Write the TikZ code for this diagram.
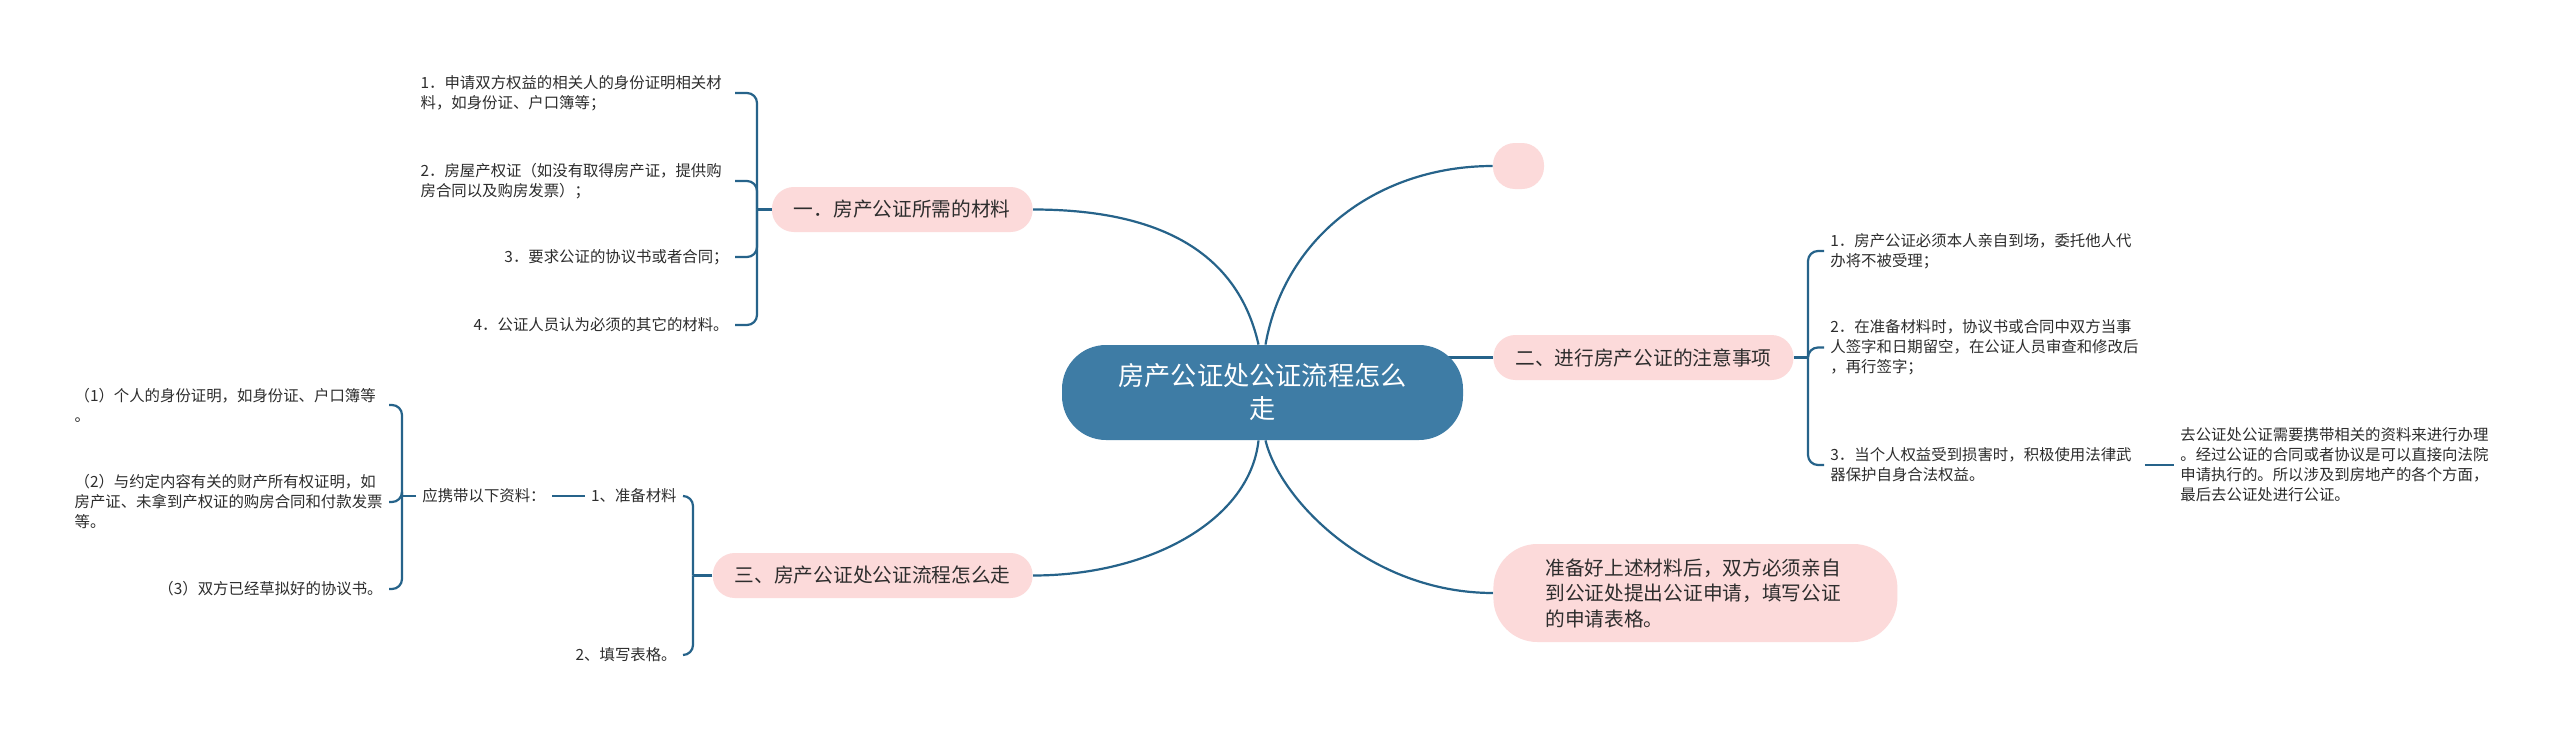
\documentclass[tikz,border=0pt]{standalone}
\usepackage{fontspec}
\setmainfont{Noto Sans CJK SC}
\usetikzlibrary{backgrounds}
\definecolor{linec}{RGB}{38,99,138}
\definecolor{pinkf}{RGB}{252,218,218}
\definecolor{cfill}{RGB}{62,124,165}
\definecolor{txt}{RGB}{45,45,45}
\begin{document}
\begin{tikzpicture}[x=0.5pt,y=-0.5pt,
  conn/.style={draw=linec, line width=1.1pt},
  bracket/.style={conn, rounded corners=5pt},
  central/.style={fill=cfill, text=white, rounded corners=22pt, minimum width=200.5pt,
    minimum height=47.5pt, align=center, inner sep=0pt,
    font=\fontsize{13.1pt}{16.5pt}\selectfont},
  branch/.style={fill=pinkf, text=txt, rounded corners=11pt, minimum height=22.5pt,
    inner xsep=11pt, inner ysep=0pt, font=\fontsize{9.85pt}{12pt}\selectfont},
  detail/.style={fill=pinkf, text=txt, rounded corners=22pt, minimum height=49pt,
    text width=150pt, inner xsep=26pt, align=left,
    font=\fontsize{9.85pt}{12.75pt}\selectfont},
  leaf/.style={text=txt, font=\fontsize{7.7pt}{10pt}\selectfont, inner xsep=3pt,
    inner ysep=0pt, align=left},
  wide/.style={text width=154pt}]
\useasboundingbox (0,0) rectangle (2560,739);

% central and main branches
\node[central] (c) at (1262.5,392.5) {房产公证处公证流程怎么\\走};
\node[branch, anchor=east] (n1) at (1033,209.5) {一．房产公证所需的材料};
\node[branch, minimum width=25.5pt, minimum height=23pt, inner xsep=0pt] (n0) at (1518.5,166) {};
\node[branch, anchor=west] (n2) at (1493,357.5) {二、进行房产公证的注意事项};
\node[branch, anchor=east] (n3) at (1033,575.5) {三、房产公证处公证流程怎么走};
\node[detail, anchor=west] (n4) at (1493,593) {准备好上述材料后，双方必须亲自\\到公证处提出公证申请，填写公证\\的申请表格。};

% branch one leaves
\node[leaf, wide, anchor=east] (a1) at (735,93) {1．申请双方权益的相关人的身份证明相关材\\料，如身份证、户口簿等；};
\node[leaf, wide, anchor=east] (a2) at (735,181) {2．房屋产权证（如没有取得房产证，提供购\\房合同以及购房发票）；};
\node[leaf, anchor=east] (a3) at (735,257) {3．要求公证的协议书或者合同；};
\node[leaf, anchor=east] (a4) at (735,325) {4．公证人员认为必须的其它的材料。};
\coordinate (j1) at (757,209.5);

% branch two leaves
\node[leaf, wide, anchor=west] (b1) at (1824,251) {1．房产公证必须本人亲自到场，委托他人代\\办将不被受理；};
\node[leaf, wide, anchor=west] (b2) at (1824,347.5) {2．在准备材料时，协议书或合同中双方当事\\人签字和日期留空，在公证人员审查和修改后\\，再行签字；};
\node[leaf, wide, anchor=west] (b3) at (1824,465) {3．当个人权益受到损害时，积极使用法律武\\器保护自身合法权益。};
\node[leaf, wide, anchor=west] (b4) at (2174,465) {去公证处公证需要携带相关的资料来进行办理\\。经过公证的合同或者协议是可以直接向法院\\申请执行的。所以涉及到房地产的各个方面，\\最后去公证处进行公证。};
\coordinate (j2) at (1808,357.5);

% branch three leaves
\node[leaf, anchor=east] (c1) at (683,496) {1、准备材料};
\node[leaf, anchor=east] (c2) at (683,655) {2、填写表格。};
\coordinate (j3) at (693,575.5);
\node[leaf, anchor=east] (e0) at (552,496) {应携带以下资料：};
\coordinate (j4) at (402,496);
\node[leaf, wide, anchor=east] (e1) at (389,405) {（1）个人的身份证明，如身份证、户口簿等\\。};
\node[leaf, wide, anchor=east] (e2) at (389,502) {（2）与约定内容有关的财产所有权证明，如\\房产证、未拿到产权证的购房合同和付款发票\\等。};
\node[leaf, anchor=east] (e3) at (389,589) {（3）双方已经草拟好的协议书。};

\begin{scope}[on background layer]
  \fill[white] (0,0) rectangle (2560,739);
  \draw[conn] ([xshift=-2pt]c.north) .. controls (1235,240) and (1140,209.5) .. (n1.east);
  \draw[conn] ([xshift=1.5pt]c.north) .. controls (1285,235) and (1380,166) .. (n0.west);
  \draw[conn] (n2.west) -- ++(-60,0);
  \draw[conn] ([xshift=-2pt]c.south) .. controls (1250,520) and (1150,575.5) .. (n3.east);
  \draw[conn] ([xshift=1.5pt]c.south) .. controls (1280,500) and (1370,593) .. (n4.west);
\end{scope}

\draw[conn] (n1.west) -- (j1);
\foreach \t in {a1,a2,a3,a4} \draw[bracket] (j1) |- (\t.east);
\draw[conn] (n2.east) -- (j2);
\foreach \t in {b1,b2,b3} \draw[bracket] (j2) |- (\t.west);
\draw[conn] (b3.east) -- (b4.west);
\draw[conn] (n3.west) -- (j3);
\foreach \t in {c1,c2} \draw[bracket] (j3) |- (\t.east);
\draw[conn] (e0.east) -- (c1.west);
\draw[conn] (e0.west) -- (j4);
\foreach \t in {e1,e2,e3} \draw[bracket] (j4) |- (\t.east);
\end{tikzpicture}
\end{document}
